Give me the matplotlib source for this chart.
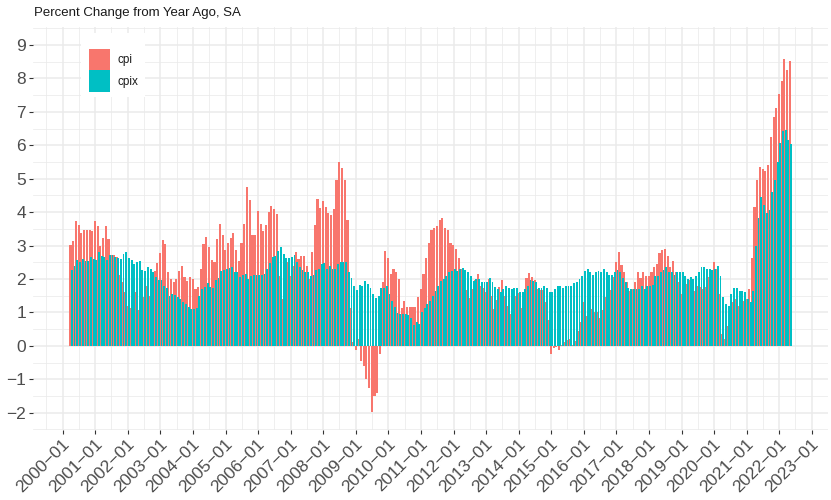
import pandas as pd
import matplotlib
matplotlib.use("Agg")
import matplotlib.pyplot as plt
import matplotlib.transforms as mtrans
from matplotlib.patches import Rectangle

# ---------------- data (year-over-year % change, monthly, 2000-04 .. 2022-05) ----
start_month = "2000-04-01"
end_month = "2022-05-01"

cpi = [
    3.01, 3.13, 3.73, 3.61, 3.37, 3.46, 3.46, 3.46, 3.44,                      # 2000 Apr-Dec
    3.73, 3.59, 2.98, 3.22, 3.58, 3.19, 2.72, 2.72, 2.65, 2.13, 1.90, 1.62,    # 2001
    1.19, 1.14, 1.37, 1.60, 1.07, 1.10, 1.47, 1.80, 1.50, 2.00, 2.25, 2.47,    # 2002
    2.78, 3.16, 3.04, 2.20, 2.00, 1.92, 1.99, 2.24, 2.39, 2.07, 1.94, 2.06,    # 2003
    2.00, 1.69, 1.75, 2.30, 3.05, 3.25, 2.97, 2.57, 2.50, 3.19, 3.64, 3.33,    # 2004
    2.86, 3.07, 3.22, 3.37, 2.86, 2.54, 3.07, 3.65, 4.75, 4.36, 3.33, 3.33,    # 2005
    4.03, 3.64, 3.43, 3.61, 4.00, 4.18, 4.10, 3.95, 2.10, 1.40, 2.00, 2.50,    # 2006
    2.10, 2.40, 2.80, 2.60, 2.70, 2.70, 2.40, 2.00, 2.80, 3.61, 4.39, 4.13,    # 2007
    4.32, 4.15, 3.97, 3.92, 4.10, 4.96, 5.49, 5.31, 4.96, 3.75, 1.12, 0.10,    # 2008
    -0.12, 0.20, -0.45, -0.60, -1.00, -1.25, -1.97, -1.50, -1.40, -0.25, 1.90, 2.83,  # 2009
    2.62, 2.15, 2.30, 2.22, 1.99, 1.14, 1.34, 1.17, 1.15, 1.17, 1.15, 1.47,    # 2010
    1.70, 2.15, 2.64, 3.07, 3.46, 3.52, 3.58, 3.76, 3.82, 3.52, 3.46, 3.07,    # 2011
    3.01, 2.90, 2.62, 2.30, 1.75, 1.68, 1.42, 1.70, 1.97, 2.15, 1.78, 1.74,    # 2012
    1.60, 1.99, 1.50, 1.10, 1.38, 1.76, 1.96, 1.50, 1.18, 0.96, 1.24, 1.50,    # 2013
    1.58, 1.13, 1.50, 2.02, 2.17, 2.05, 1.97, 1.70, 1.68, 1.66, 1.30, 0.76,    # 2014
    -0.25, -0.08, -0.05, -0.12, 0.02, 0.12, 0.18, 0.20, 0.03, 0.15, 0.45, 0.70,  # 2015
    1.30, 0.90, 0.88, 1.10, 1.02, 1.00, 0.84, 1.06, 1.46, 1.60, 1.66, 2.05,    # 2016
    2.51, 2.81, 2.43, 2.20, 1.90, 1.63, 1.70, 1.90, 2.20, 2.04, 2.20, 2.10,    # 2017
    2.10, 2.20, 2.35, 2.46, 2.78, 2.86, 2.89, 2.68, 2.37, 2.53, 2.20, 1.90,    # 2018
    1.55, 1.52, 1.86, 1.98, 1.80, 1.65, 1.80, 1.75, 1.70, 1.76, 2.05, 2.28,    # 2019
    2.50, 2.30, 1.54, 0.35, 0.20, 0.60, 1.00, 1.30, 1.40, 1.20, 1.15, 1.35,    # 2020
    1.40, 1.70, 2.64, 4.14, 4.96, 5.35, 5.29, 5.23, 5.41, 6.24, 6.84, 7.12,    # 2021
    7.53, 7.92, 8.57, 8.24, 8.52,                                              # 2022 Jan-May
]

cpix = [
    2.27, 2.39, 2.57, 2.52, 2.60, 2.54, 2.54, 2.65, 2.60,                      # 2000 Apr-Dec
    2.57, 2.82, 2.70, 2.66, 2.57, 2.72, 2.72, 2.66, 2.62, 2.60, 2.75, 2.80,    # 2001
    2.62, 2.57, 2.45, 2.52, 2.53, 2.27, 2.24, 2.36, 2.30, 2.22, 2.05, 1.97,    # 2002
    1.97, 1.80, 1.72, 1.50, 1.55, 1.52, 1.47, 1.40, 1.30, 1.25, 1.15, 1.10,    # 2003
    1.10, 1.12, 1.50, 1.70, 1.75, 1.89, 1.77, 1.73, 1.97, 2.04, 2.24, 2.27,    # 2004
    2.29, 2.33, 2.37, 2.22, 2.22, 2.07, 2.11, 2.15, 2.00, 2.10, 2.12, 2.12,    # 2005
    2.12, 2.12, 2.15, 2.30, 2.47, 2.65, 2.69, 2.85, 2.95, 2.75, 2.62, 2.62,    # 2006
    2.66, 2.73, 2.50, 2.35, 2.27, 2.20, 2.20, 2.10, 2.12, 2.27, 2.30, 2.45,    # 2007
    2.49, 2.29, 2.40, 2.30, 2.30, 2.45, 2.50, 2.50, 2.50, 2.22, 2.02, 1.80,    # 2008
    1.67, 1.82, 1.80, 1.94, 1.85, 1.72, 1.55, 1.43, 1.49, 1.72, 1.72, 1.80,    # 2009
    1.55, 1.35, 1.15, 0.97, 0.95, 0.95, 0.95, 0.92, 0.83, 0.63, 0.70, 0.65,    # 2010
    1.00, 1.12, 1.25, 1.33, 1.50, 1.65, 1.80, 1.95, 2.00, 2.10, 2.20, 2.25,    # 2011
    2.30, 2.25, 2.30, 2.32, 2.28, 2.20, 2.10, 1.95, 2.00, 2.00, 1.92, 1.90,    # 2012
    1.90, 2.02, 1.90, 1.75, 1.70, 1.62, 1.70, 1.80, 1.72, 1.70, 1.72, 1.72,    # 2013
    1.60, 1.62, 1.70, 1.80, 1.97, 1.93, 1.90, 1.73, 1.72, 1.80, 1.72, 1.62,    # 2014
    1.62, 1.70, 1.80, 1.80, 1.72, 1.80, 1.80, 1.80, 1.88, 1.90, 2.00, 2.10,    # 2015
    2.25, 2.30, 2.20, 2.12, 2.20, 2.25, 2.22, 2.30, 2.22, 2.12, 2.12, 2.20,    # 2016
    2.27, 2.20, 2.02, 1.90, 1.72, 1.70, 1.70, 1.70, 1.70, 1.78, 1.70, 1.78,    # 2017
    1.80, 1.83, 2.10, 2.10, 2.20, 2.27, 2.35, 2.20, 2.20, 2.12, 2.20, 2.20,    # 2018
    2.20, 2.10, 2.00, 2.05, 2.00, 2.10, 2.20, 2.37, 2.36, 2.30, 2.30, 2.27,    # 2019
    2.30, 2.40, 2.10, 1.45, 1.25, 1.20, 1.55, 1.73, 1.73, 1.64, 1.64, 1.60,    # 2020
    1.40, 1.30, 1.65, 2.98, 3.81, 4.45, 4.21, 3.96, 4.06, 4.60, 4.96, 5.49,    # 2021
    6.06, 6.43, 6.46, 6.16, 6.04,                                              # 2022 Jan-May
]

series_names = ["cpi", "cpix"]
series_colors = ["#F8766D", "#00BFC4"]
tick_years = list(range(2000, 2024))
y_ticks = list(range(-2, 10))
title = "Percent Change from Year Ago, SA"

# ---------------- figure ----------------
plt.rcParams["font.family"] = ["Liberation Sans", "DejaVu Sans"]

dates = pd.date_range(start_month, end_month, freq="MS")

W, H = 831, 500
fig = plt.figure(figsize=(W / 100, H / 100), dpi=100)
ax = fig.add_axes([33 / W, 70 / H, 795 / W, 403.3 / H])

ax.bar(dates - pd.Timedelta(days=3), cpi, width=24, color=series_colors[0],
       linewidth=0, zorder=2)
ax.bar(dates + pd.Timedelta(days=12), cpix, width=21, color=series_colors[1],
       linewidth=0, zorder=3)

ax.set_xlim(pd.Timestamp("1999-02-02"), pd.Timestamp("2023-06-21"))
ax.set_ylim(-2.52, 9.55)

# grid / ticks
major_x = [pd.Timestamp(f"{y}-01-01") for y in tick_years]
minor_x = [pd.Timestamp(f"{y}-07-01") for y in range(1999, 2024)]
ax.set_xticks(major_x)
ax.set_xticks(minor_x, minor=True)
ax.set_xticklabels([f"{y}\u221201" for y in tick_years])
ax.set_yticks(y_ticks)
ax.set_yticks([v + 0.5 for v in range(-3, 10)], minor=True)
ax.set_yticklabels([str(v).replace("-", "\u2212") for v in y_ticks])

ax.grid(which="major", color="#EBEBEB", linewidth=1.1, zorder=0)
ax.grid(which="minor", color="#EBEBEB", linewidth=0.55, zorder=0)
ax.set_axisbelow(True)
for s in ax.spines.values():
    s.set_visible(False)

ax.tick_params(which="major", length=3, width=0.8, color="#333333",
               labelsize=12.5, labelcolor="#4D4D4D")
ax.tick_params(axis="y", which="major", pad=2)
ax.tick_params(axis="x", which="major", pad=1.5)
ax.tick_params(which="minor", length=0)

off = mtrans.ScaledTranslation(-1 / 100, 0, fig.dpi_scale_trans)
for lab in ax.get_xticklabels():
    lab.set_rotation(45)
    lab.set_ha("right")
    lab.set_va("top")
    lab.set_rotation_mode("anchor")
    lab.set_transform(lab.get_transform() + off)

fig.text(34 / W, 1 - 16 / H, title, fontsize=9.5, color="#1A1A1A",
         ha="left", va="baseline")

# legend (drawn in figure pixel coordinates)
def px(x, y):
    return x / W, 1 - y / H

fig.patches.append(Rectangle(px(81, 97), 64 / W, 64 / H, transform=fig.transFigure,
                             facecolor="white", edgecolor="none", zorder=5))
key_tops = [49, 70.5]
for name, col, top in zip(series_names, series_colors, key_tops):
    fig.patches.append(Rectangle(px(89, top + 21), 21 / W, 21 / H,
                                 transform=fig.transFigure, facecolor=col,
                                 edgecolor="none", zorder=6))
    fig.text(*px(117, top + 11), name, fontsize=8.5, color="#1A1A1A",
             ha="left", va="center", zorder=7)

fig.savefig("out.png", dpi=100)
